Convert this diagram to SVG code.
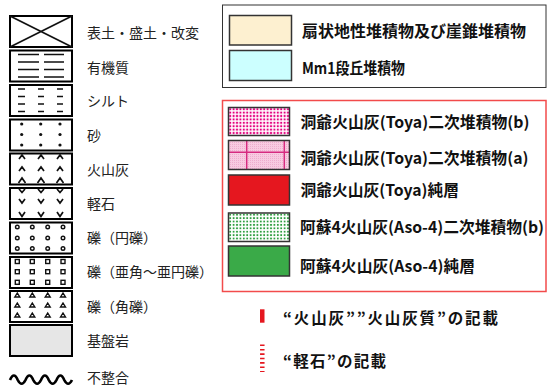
<svg xmlns="http://www.w3.org/2000/svg" width="547" height="387" viewBox="0 0 547 387">
<style>
  .lbl{font-family:"Noto Sans CJK JP","Noto Sans",sans-serif;font-size:14px;fill:#222}
  .rl{font-family:"Noto Sans CJK JP","Noto Sans",sans-serif;font-size:15.5px;font-weight:bold;fill:#111}
  .bx{fill:#fff;stroke:#000;stroke-width:2}
  .pl{fill:none;stroke:#111;stroke-width:1.7}
  .sw{stroke:#333;stroke-width:1.5}
  .dt{fill:#111}
  .ci{fill:none;stroke:#111;stroke-width:1.4}
</style>
<defs>
  <pattern id="dotM" x="228.5" y="107.5" width="3.4" height="3.4" patternUnits="userSpaceOnUse">
    <rect x="0.7" y="0.7" width="2" height="2" fill="#e4007f"/>
  </pattern>
  <pattern id="pinkF" x="0" y="0" width="2" height="2" patternUnits="userSpaceOnUse">
    <rect width="2" height="2" fill="#f8cbe1"/>
    <rect width="1" height="1" fill="#eeadce"/>
  </pattern>
  <pattern id="dotG" x="228.5" y="213" width="3.4" height="3.4" patternUnits="userSpaceOnUse">
    <rect x="0.8" y="0.8" width="1.8" height="1.8" fill="#2f9e40"/>
  </pattern>
</defs>

<!-- Left legend -->
<g id="fill-soil">
  <rect class="bx" x="10" y="16" width="62" height="31"/>
  <path class="pl" d="M10,16 L72,47 M10,47 L72,16"/>
  <text class="lbl" x="87" y="38">表土・盛土・改変</text>
</g>
<g id="organic">
  <rect class="bx" x="10" y="50.5" width="62" height="31"/>
  <path class="pl" d="M18,54.5H39M44,54.5H64M18,62H39M44,62H64M18,69.5H39M44,69.5H64M18,77H39M44,77H64"/>
  <text class="lbl" x="87" y="72.5">有機質</text>
</g>
<g id="silt">
  <rect class="bx" x="10" y="85" width="62" height="31"/>
  <path class="pl" d="M18,89H25M38,89H44M57,89H63M18,96.5H25M38,96.5H44M57,96.5H63M18,104H25M38,104H44M57,104H63M18,111.5H25M38,111.5H44M57,111.5H63"/>
  <text class="lbl" x="87" y="106">シルト</text>
</g>
<g id="sand">
  <rect class="bx" x="10" y="119.5" width="62" height="31"/>
  <circle class="dt" cx="21.7" cy="124" r="1.6"/><circle class="dt" cx="40.7" cy="124" r="1.6"/><circle class="dt" cx="60" cy="124" r="1.6"/>
  <circle class="dt" cx="21.7" cy="134.5" r="1.6"/><circle class="dt" cx="40.7" cy="134.5" r="1.6"/><circle class="dt" cx="60" cy="134.5" r="1.6"/>
  <circle class="dt" cx="21.7" cy="145" r="1.6"/><circle class="dt" cx="40.7" cy="145" r="1.6"/><circle class="dt" cx="60" cy="145" r="1.6"/>
  <text class="lbl" x="87" y="140.5">砂</text>
</g>
<g id="ash">
  <rect class="bx" x="10" y="153.5" width="62" height="31"/>
  <path class="pl" d="M19,159L22,155L25,159M38,159L41,155L44,159M57,159L60,155L63,159M19,171L22,167L25,171M38,171L41,167L44,171M57,171L60,167L63,171M18.5,183L22,178L25.5,183M37.5,183L41,178L44.5,183M56.5,183L60,178L63.5,183"/>
  <text class="lbl" x="87" y="175">火山灰</text>
</g>
<g id="pumice">
  <rect class="bx" x="10" y="188" width="62" height="31"/>
  <path class="pl" d="M19,189L22,192.5L25,189M38,189L41,192.5L44,189M57,189L60,192.5L63,189M19,199L22,203L25,199M38,199L41,203L44,199M57,199L60,203L63,199M19,212L22,216.5L25,212M38,212L41,216.5L44,212M57,212L60,216.5L63,212"/>
  <text class="lbl" x="87" y="209">軽石</text>
</g>
<g id="gravel-round">
  <rect class="bx" x="10" y="222.5" width="62" height="31"/>
  <g class="ci">
    <circle cx="17.3" cy="227" r="1.8"/><circle cx="32.3" cy="227" r="1.8"/><circle cx="47.7" cy="227" r="1.8"/><circle cx="63" cy="227" r="1.8"/>
    <circle cx="17.3" cy="238" r="1.8"/><circle cx="32.3" cy="238" r="1.8"/><circle cx="47.7" cy="238" r="1.8"/><circle cx="63" cy="238" r="1.8"/>
    <circle cx="17.3" cy="248.5" r="1.8"/><circle cx="32.3" cy="248.5" r="1.8"/><circle cx="47.7" cy="248.5" r="1.8"/><circle cx="63" cy="248.5" r="1.8"/>
  </g>
  <text class="lbl" x="87" y="243">礫（円礫）</text>
</g>
<g id="gravel-subangular">
  <rect class="bx" x="10" y="257" width="62" height="31"/>
  <g class="ci">
    <rect x="15.3" y="259.5" width="4" height="4"/><rect x="30.3" y="259.5" width="4" height="4"/><rect x="45.7" y="259.5" width="4" height="4"/><rect x="61" y="259.5" width="4" height="4"/>
    <rect x="15.3" y="269.7" width="4" height="4"/><rect x="30.3" y="269.7" width="4" height="4"/><rect x="45.7" y="269.7" width="4" height="4"/><rect x="61" y="269.7" width="4" height="4"/>
    <rect x="15.3" y="280.3" width="4" height="4"/><rect x="30.3" y="280.3" width="4" height="4"/><rect x="45.7" y="280.3" width="4" height="4"/><rect x="61" y="280.3" width="4" height="4"/>
  </g>
  <text class="lbl" x="87" y="277">礫（亜角～亜円礫）</text>
</g>
<g id="gravel-angular">
  <rect class="bx" x="10" y="291" width="62" height="31"/>
  <path class="ci" d="M14.8,297L17.3,293L19.8,297ZM29.8,297L32.3,293L34.8,297ZM45.2,297L47.7,293L50.2,297ZM60.5,297L63,293L65.5,297Z M14.8,307L17.3,303L19.8,307ZM29.8,307L32.3,303L34.8,307ZM45.2,307L47.7,303L50.2,307ZM60.5,307L63,303L65.5,307Z M14.8,317L17.3,313L19.8,317ZM29.8,317L32.3,313L34.8,317ZM45.2,317L47.7,313L50.2,317ZM60.5,317L63,313L65.5,317Z"/>
  <text class="lbl" x="87" y="311.5">礫（角礫）</text>
</g>
<g id="bedrock">
  <rect class="bx" x="10" y="325" width="62" height="31" style="fill:#e6e6e6"/>
  <text class="lbl" x="87" y="346">基盤岩</text>
</g>
<g id="unconformity">
  <path d="M10,380 c2.6,-6 5.2,-6 7.75,0 c2.6,5 5.2,5 7.75,0 c2.6,-6 5.2,-6 7.75,0 c2.6,5 5.2,5 7.75,0 c2.6,-6 5.2,-6 7.75,0 c2.6,5 5.2,5 7.75,0 c2.6,-6 5.2,-6 7.75,0 c2.6,5 5.2,5 7.75,0" fill="none" stroke="#000" stroke-width="2.7"/>
  <text class="lbl" x="87" y="383">不整合</text>
</g>

<!-- Right upper box -->
<g id="box-deposits">
  <rect x="222.5" y="5" width="323.5" height="82.5" fill="#fff" stroke="#333" stroke-width="1"/>
</g>
<g id="fan-talus">
  <rect class="sw" x="229.5" y="15.5" width="62" height="29.5" fill="#fdf0d0"/>
  <text class="rl" x="302" y="37" textLength="224" lengthAdjust="spacingAndGlyphs">扇状地性堆積物及び崖錐堆積物</text>
</g>
<g id="mm1">
  <rect class="sw" x="229.5" y="50.5" width="62" height="30" fill="#ccffff"/>
  <text class="rl" x="302" y="74" textLength="103" lengthAdjust="spacingAndGlyphs">Mm1段丘堆積物</text>
</g>

<!-- Right red box -->
<g id="box-tephra">
  <rect x="222.5" y="100.5" width="323.5" height="191" fill="#fff" stroke="#f24b4b" stroke-width="1.5"/>
</g>
<g id="toya-b">
  <rect x="228.5" y="107.5" width="61" height="28" fill="#fff"/>
  <rect x="228.5" y="107.5" width="61" height="28" fill="url(#dotM)" class="sw"/>
  <text class="rl" x="300.5" y="127.5" textLength="229" lengthAdjust="spacingAndGlyphs">洞爺火山灰(Toya)二次堆積物(b)</text>
</g>
<g id="toya-a">
  <rect x="228.5" y="140.5" width="61" height="29" fill="url(#pinkF)"/>
  <path d="M228.5,152.3H289.5M246.7,140.5V169.5M284.3,140.5V169.5" stroke="#d62a80" stroke-width="1.5" fill="none"/>
  <rect x="228.5" y="140.5" width="61" height="29" fill="none" class="sw"/>
  <text class="rl" x="300.5" y="164" textLength="228" lengthAdjust="spacingAndGlyphs">洞爺火山灰(Toya)二次堆積物(a)</text>
</g>
<g id="toya-pure">
  <rect class="sw" x="228.5" y="175" width="61" height="30" fill="#e5171f"/>
  <text class="rl" x="300.5" y="196" textLength="158.5" lengthAdjust="spacingAndGlyphs">洞爺火山灰(Toya)純層</text>
</g>
<g id="aso-b">
  <rect x="228.5" y="213" width="61" height="28.5" fill="#fff"/>
  <rect x="228.5" y="213" width="61" height="28.5" fill="url(#dotG)" class="sw"/>
  <text class="rl" x="300" y="232.5" textLength="244" lengthAdjust="spacingAndGlyphs">阿蘇4火山灰(Aso-4)二次堆積物(b)</text>
</g>
<g id="aso-pure">
  <rect class="sw" x="228.5" y="246" width="61" height="30" fill="#3aaa48"/>
  <text class="rl" x="300" y="272" textLength="175" lengthAdjust="spacingAndGlyphs">阿蘇4火山灰(Aso-4)純層</text>
</g>

<!-- Bottom notes -->
<g id="note-ash">
  <rect x="260" y="309.3" width="4.5" height="13.4" fill="#e5171f"/>
  <text class="rl" x="283" y="324" textLength="215" lengthAdjust="spacing">“火山灰””火山灰質”の記載</text>
</g>
<g id="note-pumice">
  <line x1="262.3" y1="344.5" x2="262.3" y2="372" stroke="#e5171f" stroke-width="4.5" stroke-dasharray="1.6 2.8"/>
  <text class="rl" x="283" y="366.5" textLength="103" lengthAdjust="spacing">“軽石”の記載</text>
</g>
</svg>
